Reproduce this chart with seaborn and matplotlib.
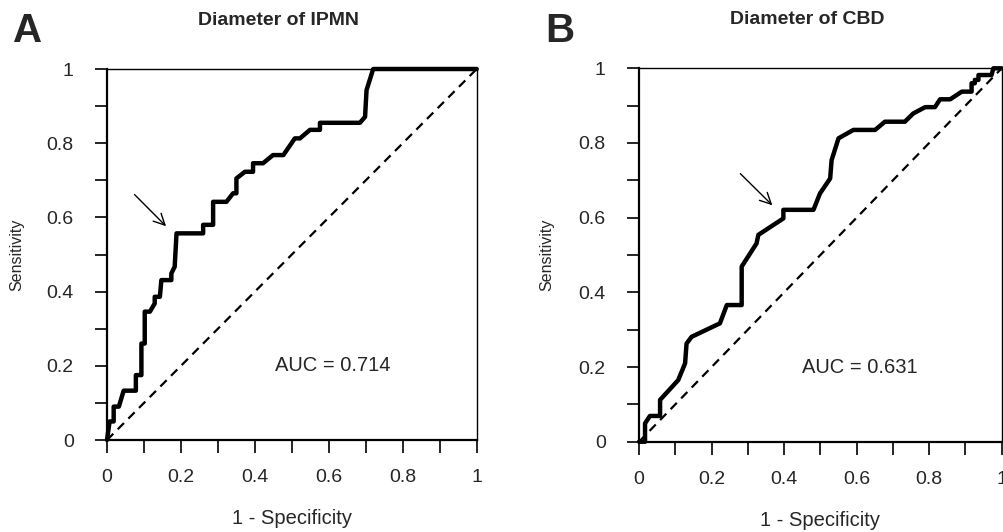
import matplotlib
matplotlib.use('Agg')
import matplotlib.pyplot as plt
import seaborn as sns
import pandas as pd
from matplotlib.ticker import MultipleLocator

# Datos de las curvas ROC
fpr_ipmn = [0, 0.007, 0.018, 0.018, 0.032, 0.045, 0.078, 0.078, 0.088, 0.093, 0.093, 0.102,
            0.102, 0.116, 0.129, 0.129, 0.143, 0.147, 0.174, 0.174, 0.183, 0.188, 0.26, 0.26,
            0.287, 0.287, 0.323, 0.341, 0.35, 0.35, 0.373, 0.395, 0.395, 0.422, 0.449, 0.477,
            0.508, 0.522, 0.549, 0.576, 0.576, 0.684, 0.698, 0.702, 0.72, 1.0]
tpr_ipmn = [0, 0.05, 0.05, 0.09, 0.09, 0.133, 0.133, 0.175, 0.175, 0.175, 0.26, 0.26,
            0.346, 0.346, 0.368, 0.386, 0.386, 0.431, 0.431, 0.449, 0.467, 0.557, 0.557, 0.58,
            0.58, 0.642, 0.642, 0.665, 0.665, 0.705, 0.723, 0.723, 0.746, 0.746, 0.768, 0.768,
            0.813, 0.813, 0.836, 0.836, 0.855, 0.855, 0.871, 0.943, 1.0, 1.0]

fpr_cbd = [0, 0.0165, 0.0165, 0.03, 0.058, 0.058, 0.108, 0.127, 0.131, 0.145, 0.223, 0.242,
           0.283, 0.283, 0.324, 0.329, 0.398, 0.398, 0.481, 0.499, 0.527, 0.531, 0.55, 0.591,
           0.651, 0.678, 0.733, 0.756, 0.789, 0.816, 0.83, 0.858, 0.89, 0.917, 0.917, 0.926,
           0.926, 0.936, 0.936, 0.972, 0.977, 1.0]
tpr_cbd = [0, 0.0, 0.049, 0.069, 0.069, 0.112, 0.165, 0.21, 0.263, 0.281, 0.317, 0.366,
           0.366, 0.469, 0.531, 0.554, 0.598, 0.621, 0.621, 0.665, 0.705, 0.754, 0.8125, 0.835,
           0.835, 0.857, 0.857, 0.879, 0.896, 0.896, 0.917, 0.917, 0.9375, 0.9375, 0.96, 0.96,
           0.969, 0.969, 0.982, 0.982, 1.0, 1.0]

diag = [0, 1]
titulos = ['Diameter of IPMN', 'Diameter of CBD']
letras = ['A', 'B']
auc = ['0.714', '0.631']
tick_vals = [0, 0.2, 0.4, 0.6, 0.8, 1]
tick_labels = ['0', '0.2', '0.4', '0.6', '0.8', '1']

sns.set_style('ticks')
plt.rcParams['font.family'] = ['Liberation Sans', 'DejaVu Sans']

fig = plt.figure(figsize=(10.04, 5.32), dpi=100)
ax_a = fig.add_axes([0.1066, 0.1729, 0.3682, 0.6974])
ax_b = fig.add_axes([0.6365, 0.1697, 0.3612, 0.7019])

curvas = [(fpr_ipmn, tpr_ipmn), (fpr_cbd, tpr_cbd)]
flechas = [((0.069, 0.667), (0.165, 0.571)), ((0.274, 0.723), (0.373, 0.628))]
letra_x = [13, 545]
label_x = [-0.225, -0.235]

for i, ax in enumerate([ax_a, ax_b]):
    df = pd.DataFrame({'fpr': curvas[i][0], 'tpr': curvas[i][1]})
    sns.lineplot(data=df, x='fpr', y='tpr', sort=False, estimator=None,
                 color='black', lw=3.2, ax=ax, clip_on=False)
    sns.lineplot(x=diag, y=diag, color='black', lw=1.6, ax=ax,
                 linestyle=(0, (4, 2.8)))

    ax.set_xlim(0, 1)
    ax.set_ylim(0, 1)
    ax.set_xticks(tick_vals)
    ax.set_xticklabels(tick_labels)
    ax.set_yticks(tick_vals)
    ax.set_yticklabels(tick_labels)
    ax.xaxis.set_minor_locator(MultipleLocator(0.1))
    ax.yaxis.set_minor_locator(MultipleLocator(0.1))
    ax.tick_params(axis='both', which='both', length=9, width=1.2, color='black',
                   direction='out')
    ax.tick_params(axis='x', which='major', labelsize=14, pad=12)
    ax.tick_params(axis='y', which='major', labelsize=14, pad=15)

    for s in ax.spines.values():
        s.set_visible(True)
        s.set_color('black')
        s.set_linewidth(1.0)
    ax.spines['bottom'].set_linewidth(1.6)
    ax.spines['left'].set_linewidth(1.6)

    ax.set_xlabel('1 - Specificity', fontsize=14.5)
    ax.set_ylabel('Sensitivity', fontsize=11.5)
    ax.xaxis.set_label_coords(0.5, -0.185)
    ax.yaxis.set_label_coords(label_x[i], 0.5)

    ax.text(0.465, 1.13, titulos[i], transform=ax.transAxes, ha='center',
            va='center', fontsize=14, fontweight='bold')
    ax.text(0.61, 0.2, 'AUC = ' + auc[i], ha='center', va='center', fontsize=14.5)
    ax.annotate('', xy=flechas[i][1], xytext=flechas[i][0],
                arrowprops=dict(arrowstyle='->', color='black', lw=1.0,
                                mutation_scale=20))

    fig.text(letra_x[i] / 1004, 1 - 31 / 532, letras[i], fontsize=29,
             fontweight='bold', va='center', ha='left')

fig.savefig('out.png', dpi=100)
